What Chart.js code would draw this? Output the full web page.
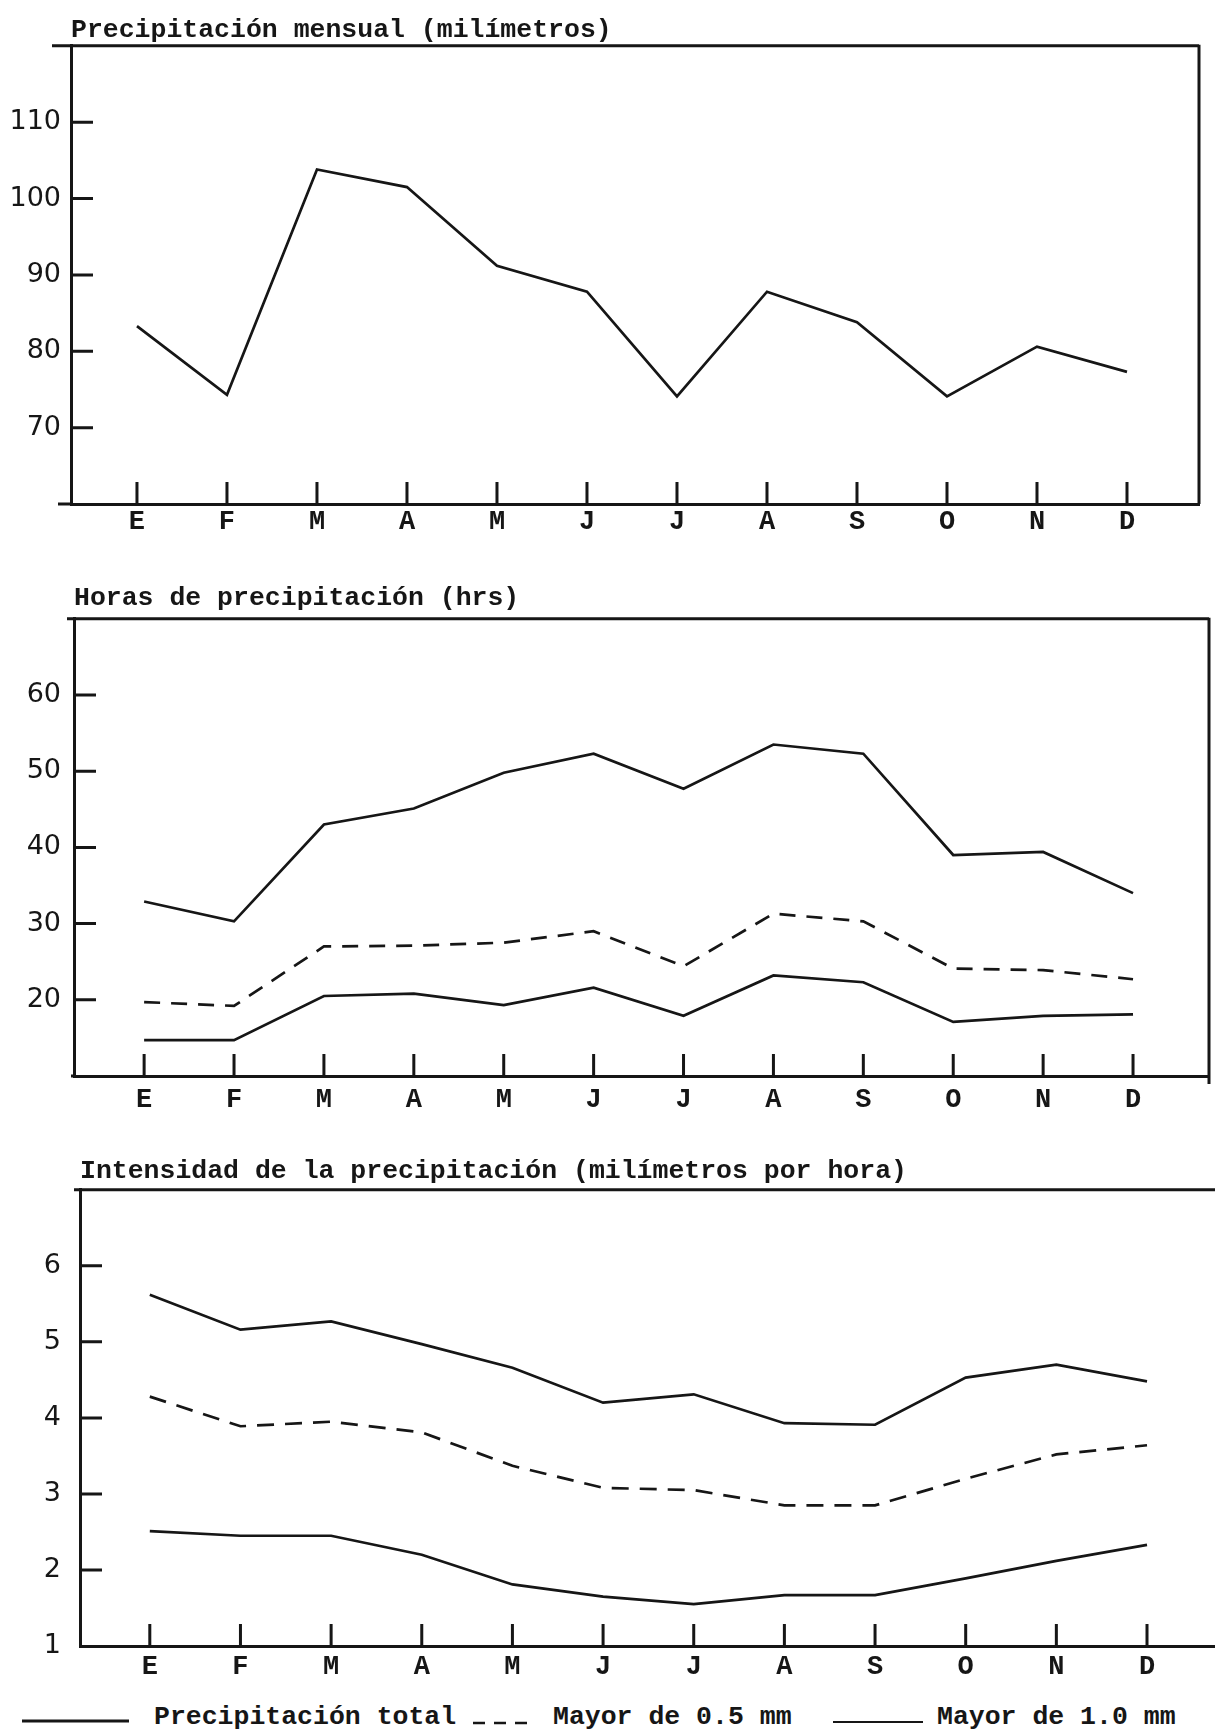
<!DOCTYPE html>
<html lang="es">
<head>
<meta charset="utf-8">
<title>Precipitación</title>
<script src="https://cdn.jsdelivr.net/npm/chart.js@4.4.1/dist/chart.umd.min.js"></script>
<style>
  html, body { margin: 0; padding: 0; background: #fff; }
  body { position: relative; width: 1215px; height: 1736px; overflow: hidden; }
  canvas { position: absolute; left: 0; }
  #rain  { top: 0; }
  #hours { top: 568px; }
  #rate  { top: 1141px; }
  .key { position: absolute; top: 1702px; font: bold 26.5px 'Liberation Mono', monospace; color: #161616; line-height: 30px; white-space: nowrap; }
  .swatch { position: absolute; }
</style>
</head>
<body>
<canvas id="rain" width="1215" height="545"></canvas>
<canvas id="hours" width="1215" height="550"></canvas>
<canvas id="rate" width="1215" height="545"></canvas>

<svg class="swatch" style="left:22px;top:1714px" width="110" height="14"><line x1="0" y1="7" x2="107" y2="7" stroke="#161616" stroke-width="3"/></svg>
<div class="key" id="k0" style="left:154px"></div>
<svg class="swatch" style="left:473px;top:1716px" width="62" height="14"><line x1="0" y1="7" x2="60" y2="7" stroke="#161616" stroke-width="2.6" stroke-dasharray="12 9"/></svg>
<div class="key" id="k1" style="left:553px"></div>
<svg class="swatch" style="left:833px;top:1715px" width="92" height="14"><line x1="0" y1="7" x2="90" y2="7" stroke="#161616" stroke-width="2.2"/></svg>
<div class="key" id="k2" style="left:937px"></div>

<script>
// three stacked panels, typewriter style
const INK = '#161616';
const MONO = "'Liberation Mono', 'DejaVu Sans Mono', monospace";
const SANS = "'DejaVu Sans', 'Liberation Sans', sans-serif";
const TICK = 22;

const MONTHS = ['E','F','M','A','M','J','J','A','S','O','N','D'];
const SERIES = ['Precipitación total', 'Mayor de 0.5 mm', 'Mayor de 1.0 mm'];

// Precipitación mensual (milímetros)
const RAIN_MM = [83.3, 74.3, 103.8, 101.5, 91.2, 87.8, 74.1, 87.8, 83.8, 74.1, 80.6, 77.3];
const RAIN_TICKS = [70, 80, 90, 100, 110];

// Horas de precipitación (hrs)
const HOURS_TOTAL = [32.9, 30.3, 43.0, 45.1, 49.8, 52.3, 47.7, 53.5, 52.3, 39.0, 39.4, 34.0];
const HOURS_05    = [19.7, 19.2, 27.0, 27.1, 27.5, 29.0, 24.4, 31.3, 30.3, 24.1, 23.9, 22.7];
const HOURS_10    = [14.7, 14.7, 20.5, 20.8, 19.3, 21.6, 17.9, 23.2, 22.3, 17.1, 17.9, 18.1];
const HOURS_TICKS = [20, 30, 40, 50, 60];

// Intensidad de la precipitación (milímetros por hora)
const RATE_TOTAL = [5.62, 5.16, 5.27, 4.97, 4.66, 4.20, 4.31, 3.93, 3.91, 4.53, 4.70, 4.48];
const RATE_05    = [4.28, 3.89, 3.95, 3.81, 3.37, 3.08, 3.05, 2.85, 2.85, 3.20, 3.52, 3.64];
const RATE_10    = [2.51, 2.45, 2.45, 2.20, 1.81, 1.65, 1.55, 1.67, 1.67, 1.89, 2.12, 2.33];
const RATE_TICKS = [1, 2, 3, 4, 5, 6];

// top rule, right rule, and the short inward tick marks
const frame = {
  id: 'frame',
  afterDraw(chart, args, o) {
    const { ctx, chartArea: a, scales: { x, y } } = chart;
    ctx.save();
    ctx.strokeStyle = INK;
    ctx.lineWidth = 3;
    ctx.beginPath();
    ctx.moveTo(a.left - o.topLeft, a.top); ctx.lineTo(a.right, a.top);
    ctx.moveTo(a.left - o.baseLeft, a.bottom); ctx.lineTo(a.left, a.bottom);
    if (o.right) { ctx.moveTo(a.right, a.top - 1); ctx.lineTo(a.right, a.bottom + o.rightBelow); }
    x.ticks.forEach(t => {
      const px = x.getPixelForValue(t.value);
      ctx.moveTo(px, a.bottom); ctx.lineTo(px, a.bottom - TICK);
    });
    y.ticks.forEach(t => {
      if (t.value <= y.min) return;
      const py = y.getPixelForValue(t.value);
      ctx.moveTo(a.left, py); ctx.lineTo(a.left + TICK, py);
    });
    ctx.stroke();
    ctx.restore();
  }
};

function pts(vals){ return vals.map((v, i) => ({ x: i, y: v })); }

function line(vals, label, dash){
  return { label, data: pts(vals), borderColor: INK, borderWidth: 2.7, borderDash: dash || [],
           pointRadius: 0, tension: 0, fill: false };
}

function panel(id, c){
  return new Chart(document.getElementById(id), {
    type: 'line',
    data: { datasets: c.sets },
    plugins: [frame],
    options: {
      responsive: false, animation: false, devicePixelRatio: 1,
      layout: { padding: { left: 0, right: c.right, top: 0, bottom: 0 } },
      plugins: {
        legend: { display: false },
        tooltip: { enabled: false },
        title: {
          display: true, text: c.title, align: 'start', fullSize: false, color: INK,
          font: { family: MONO, size: 26.5, weight: 'bold', lineHeight: 1.2 },
          padding: { top: 14, bottom: c.gap }
        },
        frame: c.frame
      },
      scales: {
        x: {
          type: 'linear', min: c.xMin, max: c.xMax,
          afterBuildTicks: s => { s.ticks = MONTHS.map((m, i) => ({ value: i })); },
          afterFit: s => { s.height = c.xH; },
          grid: { display: false, drawTicks: false },
          border: { display: true, color: INK, width: 3 },
          ticks: { callback: v => MONTHS[v], padding: c.xPad, autoSkip: false, maxRotation: 0,
                   color: INK, font: { family: MONO, size: 27, weight: 'bold' } }
        },
        y: {
          type: 'linear', min: c.yMin, max: c.yMax,
          afterBuildTicks: s => { s.ticks = c.yTicks.map(v => ({ value: v })); },
          afterFit: s => { s.width = c.left; },
          grid: { display: false, drawTicks: false },
          border: { display: true, color: INK, width: 3 },
          ticks: { callback: v => String(v), padding: c.yPad, color: INK,
                   font: { family: SANS, size: 27 } }
        }
      }
    }
  });
}

panel('rain', {
  title: 'Precipitación mensual (milímetros)',
  sets: [line(RAIN_MM, SERIES[0])],
  yMin: 60, yMax: 120, yTicks: RAIN_TICKS,
  xMin: -0.733, xMax: 11.8,
  left: 71, right: 16, gap: 0, xH: 41, xPad: 2, yPad: 10,
  frame: { right: true, rightBelow: 0, topLeft: 19, baseLeft: 13 }
});

panel('hours', {
  title: 'Horas de precipitación (hrs)',
  sets: [line(HOURS_TOTAL, SERIES[0]), line(HOURS_05, SERIES[1], [16, 11]), line(HOURS_10, SERIES[2])],
  yMin: 10, yMax: 70, yTicks: HOURS_TICKS,
  xMin: -0.78, xMax: 11.845,
  left: 74, right: 6, gap: 5, xH: 42, xPad: 8, yPad: 13,
  frame: { right: true, rightBelow: 8, topLeft: 7, baseLeft: 3 }
});

panel('rate', {
  title: 'Intensidad de la precipitación (milímetros por hora)',
  sets: [line(RATE_TOTAL, SERIES[0]), line(RATE_05, SERIES[1], [17, 11]), line(RATE_10, SERIES[2])],
  yMin: 1, yMax: 7, yTicks: RATE_TICKS,
  xMin: -0.77, xMax: 11.75,
  left: 80, right: 0, gap: 3, xH: 40, xPad: 5, yPad: 19,
  frame: { right: false, rightBelow: 0, topLeft: 6, baseLeft: 0 }
});

SERIES.forEach((s, i) => { document.getElementById('k' + i).textContent = s; });
</script>
</body>
</html>
